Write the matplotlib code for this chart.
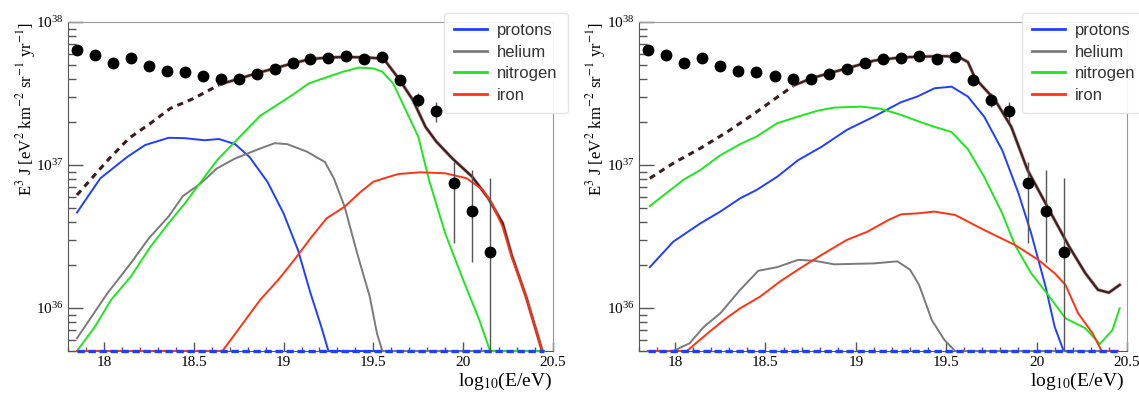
import matplotlib
matplotlib.use('Agg')
import matplotlib.pyplot as plt
import matplotlib.patheffects as pe
from matplotlib.ticker import LogLocator, MultipleLocator, FuncFormatter, NullFormatter

plt.rcParams['font.family'] = 'serif'
plt.rcParams['font.serif'] = ['Liberation Serif', 'DejaVu Serif']
plt.rcParams['mathtext.fontset'] = 'stix'

FLOOR = 5e35

# measured spectrum (same in both panels)
data_x = [17.85, 17.95, 18.05, 18.15, 18.25, 18.35, 18.45, 18.55, 18.65, 18.75, 18.85, 18.95,
          19.05, 19.15, 19.25, 19.35, 19.45, 19.55, 19.65, 19.75, 19.85, 19.95, 20.05, 20.15]
data_y = [6.38e37, 5.89e37, 5.19e37, 5.58e37, 4.93e37, 4.51e37, 4.46e37, 4.21e37, 3.98e37, 4.01e37,
          4.36e37, 4.68e37, 5.16e37, 5.47e37, 5.61e37, 5.79e37, 5.53e37, 5.69e37, 3.92e37, 2.86e37,
          2.37e37, 7.53e36, 4.76e36, 2.47e36]
data_lo = data_y[:19] + [2.56e37, 2.01e37, 2.83e36, 2.11e36, 1e35]
data_hi = data_y[:19] + [3.17e37, 2.75e37, 1.05e37, 9.3e36, 8.1e36]

# left panel model
L_tot_dash_x = [17.85, 17.94, 18.03, 18.14, 18.26, 18.37, 18.50, 18.57, 18.65]
L_tot_dash_y = [6.17e36, 8.28e36, 1.11e37, 1.54e37, 1.96e37, 2.49e37, 2.92e37, 3.26e37, 3.68e37]
L_tot_x = [18.65, 18.76, 18.85, 18.95, 19.05, 19.15, 19.26, 19.35, 19.46, 19.53, 19.57, 19.64,
           19.72, 19.79, 19.85, 19.94, 20.05, 20.14, 20.22, 20.27, 20.35, 20.44]
L_tot_y = [3.68e37, 4.04e37, 4.38e37, 4.74e37, 5.14e37, 5.51e37, 5.66e37, 5.69e37, 5.66e37, 5.57e37,
           5.27e37, 4.04e37, 2.85e37, 1.85e37, 1.46e37, 1.11e37, 8.28e36, 5.85e36, 3.91e36, 2.34e36,
           1.2e36, 5e35]

L_p_x = [17.85, 17.98, 18.13, 18.23, 18.36, 18.45, 18.56, 18.64, 18.73, 18.81, 18.91, 19.0,
         19.08, 19.15, 19.21, 19.25, 20.45]
L_p_y = [4.65e36, 8.07e36, 1.14e37, 1.38e37, 1.55e37, 1.54e37, 1.49e37, 1.52e37, 1.40e37, 1.14e37,
         7.64e36, 4.59e36, 2.55e36, 1.27e36, 7.4e35, 5e35, 5e35]
L_he_x = [17.85, 18.02, 18.15, 18.25, 18.36, 18.44, 18.54, 18.63, 18.73, 18.86, 18.95, 19.02,
          19.13, 19.23, 19.28, 19.34, 19.41, 19.48, 19.52, 19.55, 20.45]
L_he_y = [6.14e35, 1.27e36, 2.06e36, 3.07e36, 4.36e36, 6.07e36, 7.45e36, 9.48e36, 1.11e37, 1.29e37,
          1.42e37, 1.40e37, 1.24e37, 1.05e37, 8.07e36, 5.11e36, 2.41e36, 1.2e36, 6.65e35, 5e35, 5e35]
L_n_x = [17.85, 17.95, 18.04, 18.15, 18.26, 18.36, 18.45, 18.54, 18.63, 18.74, 18.87, 19.05,
         19.14, 19.33, 19.42, 19.50, 19.55, 19.61, 19.68, 19.75, 19.81, 19.90, 20.0, 20.09, 20.15, 20.45]
L_n_y = [5e35, 7.4e35, 1.14e36, 1.66e36, 2.69e36, 3.91e36, 5.37e36, 7.64e36, 1.08e37, 1.5e37,
         2.21e37, 3.09e37, 3.72e37, 4.49e37, 4.8e37, 4.74e37, 4.49e37, 3.72e37, 2.43e37, 1.58e37,
         7.85e36, 3.33e36, 1.57e36, 8.24e35, 5e35, 5e35]
L_fe_x = [17.85, 18.66, 18.76, 18.87, 18.97, 19.06, 19.15, 19.24, 19.34, 19.43, 19.50, 19.58,
          19.64, 19.76, 19.90, 20.02, 20.11, 20.16, 20.22, 20.27, 20.35, 20.44]
L_fe_y = [5e35, 5e35, 7.4e35, 1.14e36, 1.57e36, 2.17e36, 3.07e36, 4.24e36, 5.11e36, 6.5e36,
          7.64e36, 8.22e36, 8.65e36, 8.89e36, 8.75e36, 8.07e36, 6.68e36, 5.4e36, 3.7e36, 2.29e36,
          1.2e36, 5e35]

# right panel model
R_tot_dash_x = [17.86, 17.99, 18.14, 18.29, 18.44, 18.57, 18.66]
R_tot_dash_y = [8.07e36, 1.03e37, 1.31e37, 1.71e37, 2.30e37, 3.01e37, 3.62e37]
R_tot_x = [18.66, 18.77, 18.95, 19.10, 19.25, 19.47, 19.565, 19.62, 19.66, 19.77, 19.86, 19.95,
           20.07, 20.18, 20.27, 20.34, 20.40, 20.46]
R_tot_y = [3.62e37, 4.10e37, 4.74e37, 5.37e37, 5.66e37, 5.78e37, 5.73e37, 5.25e37, 4.04e37, 2.85e37,
           1.85e37, 9.23e36, 4.84e36, 2.69e36, 1.75e36, 1.34e36, 1.28e36, 1.45e36]

R_p_x = [17.86, 17.99, 18.14, 18.25, 18.36, 18.45, 18.565, 18.68, 18.81, 18.95, 19.10, 19.25,
         19.34, 19.435, 19.53, 19.62, 19.71, 19.81, 19.90, 19.97, 20.05, 20.10, 20.15, 20.45]
R_p_y = [1.93e36, 2.91e36, 3.91e36, 4.72e36, 5.85e36, 6.68e36, 8.28e36, 1.08e37, 1.34e37, 1.76e37,
         2.18e37, 2.75e37, 3.01e37, 3.44e37, 3.53e37, 3.01e37, 2.18e37, 1.27e37, 6.34e36, 3.33e36,
         1.41e36, 7.4e35, 5e35, 5e35]
R_he_x = [17.85, 17.99, 18.08, 18.16, 18.25, 18.36, 18.46, 18.565, 18.68, 18.77, 18.88, 19.10,
          19.23, 19.30, 19.35, 19.42, 19.49, 19.55, 20.45]
R_he_y = [5e35, 5e35, 5.66e35, 7.4e35, 9.18e35, 1.34e36, 1.82e36, 1.93e36, 2.17e36, 2.14e36,
          2.02e36, 2.05e36, 2.12e36, 1.85e36, 1.45e36, 8.24e35, 5.97e35, 5e35, 5e35]
R_n_x = [17.86, 17.95, 18.05, 18.14, 18.25, 18.36, 18.45, 18.565, 18.68, 18.79, 18.88, 19.03,
         19.14, 19.25, 19.36, 19.435, 19.53, 19.62, 19.71, 19.81, 19.88, 19.97, 20.065, 20.16,
         20.27, 20.35, 20.42, 20.46]
R_n_y = [5.16e36, 6.34e36, 7.94e36, 9.23e36, 1.17e37, 1.40e37, 1.58e37, 1.96e37, 2.18e37, 2.40e37,
         2.52e37, 2.56e37, 2.47e37, 2.24e37, 1.99e37, 1.85e37, 1.70e37, 1.29e37, 8.28e36, 4.59e36,
         2.76e36, 1.75e36, 1.23e36, 8.47e35, 7.21e35, 5.6e35, 7.01e35, 9.95e35]
R_fe_x = [17.85, 18.065, 18.18, 18.27, 18.36, 18.47, 18.58, 18.69, 18.81, 18.95, 19.065, 19.18,
          19.25, 19.34, 19.435, 19.55, 19.71, 19.88, 20.01, 20.10, 20.16, 20.23, 20.31, 20.36, 20.45]
R_fe_y = [5e35, 5e35, 6.65e35, 8.24e35, 9.95e35, 1.2e36, 1.53e36, 1.89e36, 2.35e36, 2.99e36,
          3.42e36, 4.12e36, 4.52e36, 4.59e36, 4.72e36, 4.47e36, 3.51e36, 2.76e36, 2.17e36, 1.75e36,
          1.45e36, 9.18e35, 6.65e35, 5e35, 5e35]

names = ['protons', 'helium', 'nitrogen', 'iron']
colors = ['#1f3fff', '#7a7a7a', '#1ee61e', '#ff3312']
BROWN = '#3b1f1f'

fig = plt.figure(figsize=(11.39, 3.94), dpi=100)


def draw_panel(ax, comps, dash_x, dash_y, tot_x, tot_y):
    ax.plot(dash_x, dash_y, color=BROWN, lw=2.2, ls=(0, (2, 1.7)))
    ax.plot(tot_x, tot_y, color=BROWN, lw=1.6,
            path_effects=[pe.Stroke(linewidth=2.6, foreground='#caa0a0'), pe.Normal()])
    for (cx, cy), name, c in zip(comps, names, colors):
        ax.plot(cx, cy, color=c, lw=1.4, label=name, clip_on=False, zorder=3)
    # zero-level line along the bottom
    ax.plot([17.85, 20.45], [FLOOR, FLOOR], color='#1f3fff', lw=2.4, ls=(0, (2.2, 1.1)),
            clip_on=False, zorder=4)
    ax.vlines(data_x, data_lo, data_hi, color='#555555', lw=1, zorder=5)
    ax.plot(data_x, data_y, 'o', color='black', ms=7.5, zorder=6)

    ax.set_yscale('log')
    ax.set_xlim(17.8, 20.5)
    ax.set_ylim(5e35, 1e38)
    ax.yaxis.set_major_locator(LogLocator(base=10))
    ax.yaxis.set_minor_locator(LogLocator(base=10, subs=range(2, 10)))
    ax.yaxis.set_minor_formatter(NullFormatter())
    ax.xaxis.set_major_locator(MultipleLocator(0.5))
    ax.xaxis.set_minor_locator(MultipleLocator(0.1))
    ax.xaxis.set_major_formatter(FuncFormatter(lambda v, p: '%g' % v))
    ax.tick_params(which='both', direction='in', top=False, right=False, colors='#555555',
                   labelcolor='black', labelsize=11)
    ax.tick_params(axis='y', which='major', length=11, width=1, pad=3)
    ax.tick_params(axis='y', which='minor', length=6, width=1)
    ax.tick_params(axis='x', which='major', length=6.5, width=1)
    ax.tick_params(axis='x', which='minor', length=3, width=1)
    for s in ['left', 'bottom']:
        ax.spines[s].set_color('#555555')
    for s in ['top', 'right']:
        ax.spines[s].set_color('#999999')


ylabel = r'E$^{3}$ J [eV$^{2}$ km$^{-2}$ sr$^{-1}$ yr$^{-1}$]'
xlabel = r'log$_{10}$(E/eV)'

axL = fig.add_axes([0.0597, 0.1091, 0.4258, 0.835])
draw_panel(axL, [(L_p_x, L_p_y), (L_he_x, L_he_y), (L_n_x, L_n_y), (L_fe_x, L_fe_y)],
           L_tot_dash_x, L_tot_dash_y, L_tot_x, L_tot_y)
axR = fig.add_axes([0.561, 0.1091, 0.4284, 0.835])
draw_panel(axR, [(R_p_x, R_p_y), (R_he_x, R_he_y), (R_n_x, R_n_y), (R_fe_x, R_fe_y)],
           R_tot_dash_x, R_tot_dash_y, R_tot_x, R_tot_y)

for ax, lx, ylx, xlx in [(axL, 444 / 1139, 26 / 1139, 552 / 1139),
                         (axR, 1022 / 1139, 596 / 1139, 1124 / 1139)]:
    leg = ax.legend(loc='upper left', bbox_to_anchor=(lx, 1 - 13 / 394),
                    bbox_transform=fig.transFigure, fancybox=True, framealpha=0.9,
                    edgecolor='#e2e2e2', handlelength=2.0, labelspacing=0.4,
                    borderpad=0.6, handletextpad=0.6, borderaxespad=0,
                    prop={'family': 'Liberation Sans', 'size': 12})
    leg.get_frame().set_linewidth(1)
    for t in leg.get_texts():
        t.set_color('#333333')
    for h in leg.get_lines():
        h.set_linewidth(2)
    fig.text(ylx, 1 - 22 / 394, ylabel, rotation=90, ha='center', va='top', fontsize=12)
    fig.text(xlx, 1 - 386 / 394, xlabel, ha='right', va='baseline', fontsize=14)

plt.savefig('out.png', dpi=100)
plt.close()
